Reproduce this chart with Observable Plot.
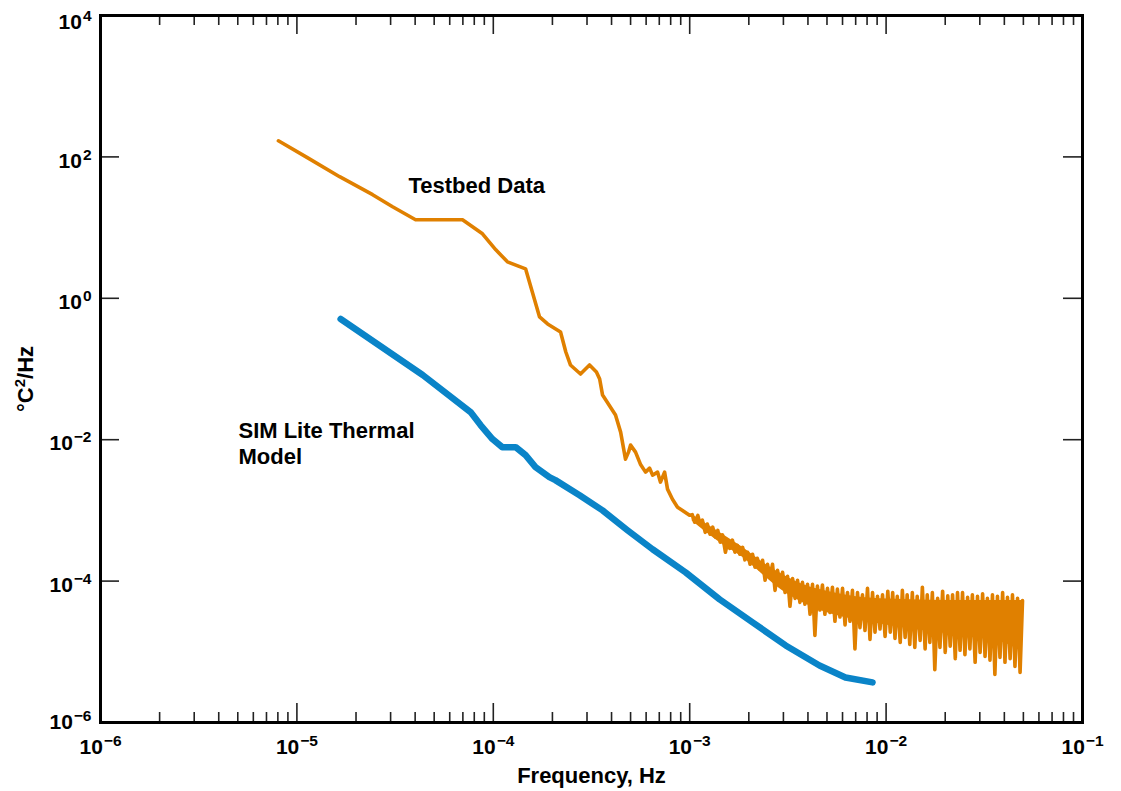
<!DOCTYPE html>
<html>
<head>
<meta charset="utf-8">
<script src="https://cdn.jsdelivr.net/npm/d3@7"></script>
<script src="https://cdn.jsdelivr.net/npm/@observablehq/plot@0.6"></script>
<style>
  html, body { margin: 0; padding: 0; background: #fff; }
  #chart svg { display: block; }
</style>
</head>
<body>
<div id="chart"></div>
<script>
// ---- Data ----
// Testbed Data: frequency (Hz) and PSD (°C²/Hz)
const testbedFreq = [
  8.05e-6, 1.13e-5, 1.65e-5, 2.43e-5, 3.07e-5, 4.02e-5, 6.97e-5, 8.81e-5, 1.03e-4, 1.18e-4,
  1.46e-4, 1.58e-4, 1.72e-4, 1.89e-4, 2.2e-4, 2.34e-4, 2.47e-4, 2.78e-4, 3.09e-4, 3.35e-4,
  3.48e-4, 3.6e-4, 3.74e-4, 4.19e-4, 4.45e-4, 4.71e-4, 4.88e-4, 5.0e-4, 5.3e-4, 5.61e-4,
  5.96e-4, 6.25e-4, 6.47e-4, 6.86e-4, 7.1e-4, 7.45e-4, 7.71e-4, 8.17e-4, 8.67e-4, 9.19e-4,
  9.98e-4,
  1.03e-3, 1.06e-3, 1.10e-3, 1.13e-3,
  1.16e-3, 1.20e-3, 1.23e-3, 1.27e-3,
  1.31e-3, 1.35e-3, 1.39e-3, 1.43e-3,
  1.47e-3, 1.52e-3, 1.56e-3, 1.60e-3,
  1.65e-3, 1.70e-3, 1.75e-3, 1.80e-3,
  1.86e-3, 1.91e-3, 1.97e-3, 2.03e-3,
  2.09e-3, 2.15e-3, 2.21e-3, 2.28e-3,
  2.35e-3, 2.42e-3, 2.49e-3, 2.56e-3,
  2.64e-3, 2.72e-3, 2.80e-3, 2.88e-3,
  2.97e-3, 3.06e-3, 3.15e-3, 3.24e-3,
  3.34e-3, 3.44e-3, 3.54e-3, 3.64e-3,
  3.75e-3, 3.86e-3, 3.98e-3, 4.10e-3,
  4.22e-3, 4.34e-3, 4.47e-3, 4.60e-3,
  4.74e-3, 4.88e-3, 5.03e-3, 5.18e-3,
  5.33e-3, 5.49e-3, 5.65e-3, 5.82e-3,
  6.00e-3, 6.18e-3, 6.36e-3, 6.55e-3,
  6.74e-3, 6.94e-3, 7.15e-3, 7.36e-3,
  7.58e-3, 7.81e-3, 8.04e-3, 8.28e-3,
  8.53e-3, 8.78e-3, 9.04e-3, 9.31e-3,
  9.59e-3, 9.88e-3, 1.02e-2, 1.05e-2,
  1.08e-2, 1.11e-2, 1.14e-2, 1.18e-2,
  1.21e-2, 1.25e-2, 1.28e-2, 1.32e-2,
  1.36e-2, 1.40e-2, 1.44e-2, 1.49e-2,
  1.53e-2, 1.58e-2, 1.62e-2, 1.67e-2,
  1.72e-2, 1.77e-2, 1.83e-2, 1.88e-2,
  1.94e-2, 2.00e-2, 2.06e-2, 2.12e-2,
  2.18e-2, 2.25e-2, 2.31e-2, 2.38e-2,
  2.45e-2, 2.52e-2, 2.60e-2, 2.67e-2,
  2.75e-2, 2.84e-2, 2.92e-2, 3.01e-2,
  3.10e-2, 3.19e-2, 3.28e-2, 3.38e-2,
  3.48e-2, 3.58e-2, 3.69e-2, 3.80e-2,
  3.92e-2, 4.03e-2, 4.15e-2, 4.28e-2,
  4.40e-2, 4.53e-2, 4.67e-2, 4.81e-2,
  4.95e-2
];
const testbedPsd = [
  169, 97.5, 52.5, 29.2, 19.7, 12.9, 12.9, 8.17, 4.85, 3.28,
  2.61, 1.23, 0.545, 0.434, 0.334, 0.174, 0.114, 0.0849, 0.114, 0.0907,
  0.0721, 0.0428, 0.0364, 0.0223, 0.0128, 5.31e-3, 6.67e-3, 8.39e-3, 6.67e-3, 4.51e-3,
  3.48e-3, 3.96e-3, 3.15e-3, 3.48e-3, 2.51e-3, 3.48e-3, 2.0e-3, 1.44e-3, 1.11e-3, 1.0e-3,
  8.55e-4,
  8.7e-4, 6.8e-4, 8.5e-4, 6.4e-4,
  7.3e-4, 4.9e-4, 6.4e-4, 4.6e-4,
  5.8e-4, 4.2e-4, 5.2e-4, 3.55e-4,
  4.5e-4, 2.56e-4, 3.55e-4, 2.9e-4,
  3.8e-4, 2.56e-4, 3.2e-4, 2.4e-4,
  3.0e-4, 2.0e-4, 2.56e-4, 1.73e-4,
  2.4e-4, 1.57e-4, 2.1e-4, 1.47e-4,
  1.97e-4, 1.03e-4, 1.73e-4, 1.13e-4,
  1.73e-4, 7.4e-5, 1.42e-4, 9.0e-5,
  1.33e-4, 6.9e-5, 1.17e-4, 4.4e-5,
  1.09e-4, 5.7e-5, 1.03e-4, 5.0e-5,
  9.6e-5, 4.7e-5, 9.0e-5, 3.4e-5,
  9.0e-5, 1.7e-5, 8.5e-5, 3.9e-5,
  8.8e-5, 3.4e-5, 7.9e-5, 3.6e-5,
  8.2e-5, 2.7e-5, 7.7e-5, 3.1e-5,
  7.9e-5, 2.4e-5, 6.9e-5, 2.7e-5,
  7.4e-5, 1.1e-5, 6.9e-5, 2.2e-5,
  6.4e-5, 2.0e-5, 7.9e-5, 1.5e-5,
  6.9e-5, 1.9e-5, 6.1e-5, 2.1e-5,
  6.4e-5, 1.65e-5, 7.2e-5, 1.9e-5,
  6.9e-5, 1.55e-5, 6.1e-5, 1.36e-5,
  7.4e-5, 1.6e-5, 6.4e-5, 1.27e-5,
  6.9e-5, 1.15e-5, 6.1e-5, 1.45e-5,
  8.2e-5, 1.1e-5, 6.4e-5, 1.36e-5,
  6.9e-5, 5.6e-6, 5.7e-5, 1.15e-5,
  7.2e-5, 9.8e-6, 6.2e-5, 1.2e-5,
  6.4e-5, 8.0e-6, 6.9e-5, 1.05e-5,
  6.9e-5, 9.1e-6, 5.9e-5, 1.1e-5,
  6.4e-5, 7.1e-6, 6.1e-5, 9.8e-6,
  6.6e-5, 8.6e-6, 5.7e-5, 7.6e-6,
  6.4e-5, 4.8e-6, 6.1e-5, 8.3e-6,
  6.9e-5, 7.1e-6, 5.9e-5, 8.0e-6,
  6.4e-5, 6.2e-6, 5.7e-5, 5.1e-6,
  5.3e-5
];
// Dense core of the noisy testbed band (upper / lower edge)
const bandFreq  = [1.03e-3, 1.47e-3, 1.86e-3, 2.35e-3, 2.97e-3, 3.75e-3, 5.33e-3, 8.53e-3, 1.21e-2, 2.18e-2, 3.92e-2, 4.95e-2];
const bandUpper = [8.7e-4, 4.6e-4, 3.0e-4, 1.85e-4, 1.24e-4, 9.0e-5, 6.9e-5, 5.7e-5, 5.5e-5, 5.3e-5, 5.3e-5, 5.3e-5];
const bandLower = [7.1e-4, 3.3e-4, 2.17e-4, 1.24e-4, 7.3e-5, 5.0e-5, 3.4e-5, 2.6e-5, 2.2e-5, 1.75e-5, 1.36e-5, 9.8e-6];

// SIM Lite Thermal Model
const modelFreq = [
  1.67e-5, 4.37e-5, 7.66e-5, 8.61e-5, 9.9e-5, 1.11e-4, 1.30e-4, 1.46e-4, 1.64e-4, 1.93e-4,
  2.07e-4, 2.75e-4, 3.6e-4, 4.82e-4, 6.47e-4, 9.53e-4, 1.42e-3, 2.09e-3, 3.08e-3, 4.58e-3,
  6.21e-3, 8.53e-3
];
const modelPsd = [
  0.51, 0.0822, 0.0246, 0.0161, 0.0102, 7.85e-3, 7.85e-3, 6.05e-3, 4.09e-3, 2.95e-3,
  2.68e-3, 1.64e-3, 1.0e-3, 5.25e-4, 2.82e-4, 1.33e-4, 5.52e-5, 2.61e-5, 1.23e-5, 6.41e-6,
  4.34e-6, 3.69e-6
];

// Axis ticks
const xMajorTicks = [1e-6, 1e-5, 1e-4, 1e-3, 1e-2, 1e-1];
const yMajorTicks = [1e4, 1e2, 1e0, 1e-2, 1e-4, 1e-6];

// Text
const xTitle = "Frequency, Hz";
const yTitle = "°C²/Hz";
const annotationText = ["Testbed Data", "SIM Lite Thermal", "Model"];
const annotationFreq = [3.70e-5, 5.04e-6, 5.04e-6];
const annotationPsd = [38.7, 0.0133, 5.69e-3];

// ---- Build tables ----
const testbed = d3.range(Math.min(testbedFreq.length, testbedPsd.length))
  .map(i => ({f: testbedFreq[i], psd: testbedPsd[i]}));
const band = bandFreq.map((f, i) => ({f, hi: bandUpper[i], lo: bandLower[i]}));
const model = d3.range(Math.min(modelFreq.length, modelPsd.length))
  .map(i => ({f: modelFreq[i], psd: modelPsd[i]}));
const annotations = annotationText.map((t, i) => ({text: t, f: annotationFreq[i], psd: annotationPsd[i]}));

const xDomain = [1e-6, 1e-1];
const yDomain = [1e-6, 1e4];
const xMinorTicks = d3.scaleLog().domain(xDomain).ticks()
  .filter(t => !xMajorTicks.some(m => Math.abs(t / m - 1) < 1e-6));

const W = 1121, H = 791;
const mL = 100, mR = 39, mT = 15, mB = 69;
const fw = W - mL - mR, fh = H - mT - mB;
const majorLen = 19, minorLen = 10;
const tickColor = "#222";
const orange = "#e08000";
const blue = "#0a84c8";
const font = "'Liberation Sans', Arial, Helvetica, sans-serif";

const chart = Plot.plot({
  width: W,
  height: H,
  marginLeft: mL, marginRight: mR, marginTop: mT, marginBottom: mB,
  x: {type: "log", domain: xDomain, label: null},
  y: {type: "log", domain: yDomain, label: null},
  style: {fontFamily: font, fontWeight: "bold", color: "#000", background: "#fff"},
  marks: [
    Plot.line(model, {x: "f", y: "psd", stroke: blue, strokeWidth: 6.5, strokeLinejoin: "round", strokeLinecap: "round"}),
    Plot.areaY(band, {x: "f", y1: "lo", y2: "hi", fill: orange, curve: "monotone-x"}),
    Plot.line(testbed, {x: "f", y: "psd", stroke: orange, strokeWidth: 3.6, strokeLinejoin: "round", strokeLinecap: "round"}),
    // ticks (inward)
    Plot.tickX(xMajorTicks, {x: d => d, insetTop: fh - majorLen, stroke: tickColor, strokeWidth: 1.6}),
    Plot.tickX(xMajorTicks, {x: d => d, insetBottom: fh - majorLen, stroke: tickColor, strokeWidth: 1.6}),
    Plot.tickX(xMinorTicks, {x: d => d, insetTop: fh - minorLen, stroke: tickColor, strokeWidth: 1.6}),
    Plot.tickX(xMinorTicks, {x: d => d, insetBottom: fh - minorLen, stroke: tickColor, strokeWidth: 1.6}),
    Plot.tickY(yMajorTicks, {y: d => d, insetRight: fw - majorLen, stroke: tickColor, strokeWidth: 1.6}),
    Plot.tickY(yMajorTicks, {y: d => d, insetLeft: fw - majorLen, stroke: tickColor, strokeWidth: 1.6}),
    Plot.frame({stroke: "#000", strokeWidth: 3}),
    // tick labels
    Plot.axisX({anchor: "bottom", ticks: xMajorTicks, tickSize: 0, tickPadding: 17, label: null,
      tickFormat: d => "10^" + Math.round(Math.log10(d)), fontSize: 21, fontWeight: "bold"}),
    Plot.axisY({anchor: "left", ticks: yMajorTicks, tickSize: 0, tickPadding: 9, label: null,
      tickFormat: d => "10^" + Math.round(Math.log10(d)), fontSize: 21, fontWeight: "bold"}),
    // axis titles
    Plot.text([xTitle], {frameAnchor: "bottom", text: d => d, dy: 53, textAnchor: "middle", lineAnchor: "middle", fontSize: 22, fontWeight: "bold", fill: "#000"}),
    Plot.text([yTitle], {frameAnchor: "left", text: d => d, rotate: -90, dx: -75, dy: 10, textAnchor: "middle", lineAnchor: "middle", fontSize: 22, fontWeight: "bold", fill: "#000"}),
    // annotations
    Plot.text(annotations, {x: "f", y: "psd", text: "text", textAnchor: "start", lineAnchor: "middle", fontSize: 22, fontWeight: "bold", fill: "#000"})
  ]
});

// Turn "10^n" labels into 10 with a raised exponent
const NS = "http://www.w3.org/2000/svg";
function superscript(ariaLabel, extraDy) {
  chart.querySelectorAll(`g[aria-label="${ariaLabel}"] text`).forEach(t => {
    const m = t.textContent.match(/^10\^(-?\d+)$/);
    if (!m) return;
    const e = +m[1];
    t.textContent = "";
    const base = document.createElementNS(NS, "tspan");
    base.textContent = "10";
    base.setAttribute("dy", String(extraDy(e)));
    t.appendChild(base);
    const sup = document.createElementNS(NS, "tspan");
    sup.textContent = String(e).replace("-", "\u2212");
    sup.setAttribute("dy", "-8");
    sup.setAttribute("dx", "1");
    sup.setAttribute("font-size", "15.5");
    t.appendChild(sup);
  });
}
superscript("x-axis tick label", () => 0);
superscript("y-axis tick label", e => e === 4 ? 7 : e === -6 ? 0 : 4);

// Superscript the 2 in the y title
chart.querySelectorAll("text").forEach(t => {
  if (t.textContent === yTitle) {
    t.textContent = "";
    const a = document.createElementNS(NS, "tspan"); a.textContent = "°C"; t.appendChild(a);
    const b = document.createElementNS(NS, "tspan"); b.textContent = "2"; b.setAttribute("dy", "-8"); b.setAttribute("font-size", "15"); t.appendChild(b);
    const c = document.createElementNS(NS, "tspan"); c.textContent = "/Hz"; c.setAttribute("dy", "8"); t.appendChild(c);
  }
});

document.getElementById("chart").appendChild(chart);
</script>
</body>
</html>
